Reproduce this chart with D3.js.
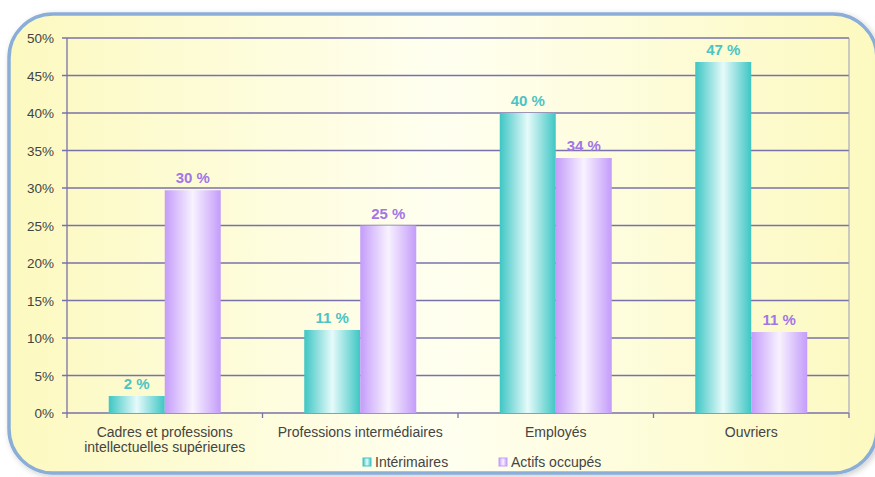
<!DOCTYPE html>
<html><head><meta charset="utf-8">
<script src="https://cdn.jsdelivr.net/npm/d3@7"></script>
<style>body{margin:0;background:#fff;}svg{display:block;font-family:Arial,"Liberation Sans",sans-serif;}</style>
</head><body>
<script>
const categories = [["Cadres et professions","intellectuelles supérieures"],["Professions intermédiaires"],["Employés"],["Ouvriers"]];
const seriesNames = ["Intérimaires","Actifs occupés"];
const interimaires = [2.27, 11.07, 40.0, 46.8];
const actifs = [29.7, 25.0, 34.0, 10.8];
const labelsInterim = ["2 %","11 %","40 %","47 %"];
const labelsActifs = ["30 %","25 %","34 %","11 %"];
const yTicks = [0,5,10,15,20,25,30,35,40,45,50];

const W=875,H=477;
const svg=d3.select("body").append("svg").attr("width",W).attr("height",H);
const defs=svg.append("defs");
const bg=defs.append("linearGradient").attr("id","bg").attr("x1","0").attr("x2","1").attr("y1","0").attr("y2","0");
bg.append("stop").attr("offset","0").attr("stop-color","#fcf9c0");
bg.append("stop").attr("offset","0.5").attr("stop-color","#fffff0");
bg.append("stop").attr("offset","1").attr("stop-color","#fcf9c0");
function barGrad(id,edge,mid){
  const g=defs.append("linearGradient").attr("id",id).attr("x1","0").attr("x2","1").attr("y1","0").attr("y2","0");
  g.append("stop").attr("offset","0").attr("stop-color",edge);
  g.append("stop").attr("offset","0.5").attr("stop-color",mid);
  g.append("stop").attr("offset","1").attr("stop-color",edge);
}
barGrad("gTeal","#3ec6c4","#e6fafa");
barGrad("gPurple","#c49cfa","#f8f2ff");
const sh=defs.append("filter").attr("id","sh").attr("x","-5%").attr("y","-5%").attr("width","110%").attr("height","110%");
sh.append("feGaussianBlur").attr("in","SourceAlpha").attr("stdDeviation","3");
sh.append("feOffset").attr("dx","2").attr("dy","2").attr("result","b");
sh.append("feComponentTransfer").append("feFuncA").attr("type","linear").attr("slope","0.2");
const fm=sh.append("feMerge");fm.append("feMergeNode");fm.append("feMergeNode").attr("in","SourceGraphic");

svg.append("rect").attr("x",9).attr("y",14).attr("width",868).attr("height",459).attr("rx",44).attr("ry",44)
  .attr("fill","url(#bg)").attr("stroke","#8aaed8").attr("stroke-width",3.5).attr("filter","url(#sh)");

const L=67,R=849,T=38,B=413;
const x=d3.scaleBand().domain(d3.range(categories.length)).range([L,R]).paddingInner(0).paddingOuter(0);
const inner=d3.scaleBand().domain([0,1]).range([0,x.bandwidth()]).paddingOuter(0.7455).paddingInner(0);
const y=d3.scaleLinear().domain([0,50]).range([B,T]);

const gridC="#7872aa";
svg.append("g").selectAll("line").data(yTicks).join("line")
  .attr("x1",L-5).attr("x2",R).attr("y1",d=>y(d)).attr("y2",d=>y(d)).attr("stroke",gridC).attr("stroke-width",1.3);
svg.append("line").attr("x1",L).attr("x2",L).attr("y1",T).attr("y2",B).attr("stroke",gridC).attr("stroke-width",1.3);
svg.append("line").attr("x1",R).attr("x2",R).attr("y1",T).attr("y2",B).attr("stroke","#9a9ab8").attr("stroke-width",1);
svg.append("g").selectAll("text").data(yTicks).join("text")
  .attr("x",L-13).attr("y",d=>y(d)+5).attr("text-anchor","end").attr("font-size",13.5).attr("fill","#444").text(d=>d+"%");
// x ticks
svg.append("g").selectAll("line").data(d3.range(categories.length+1)).join("line")
  .attr("x1",i=>L+i*x.bandwidth()).attr("x2",i=>L+i*x.bandwidth()).attr("y1",B).attr("y2",B+5).attr("stroke",gridC).attr("stroke-width",1.3);

const series=[{vals:interimaires,labels:labelsInterim,fill:"url(#gTeal)",lc:"#4cc4c4"},{vals:actifs,labels:labelsActifs,fill:"url(#gPurple)",lc:"#a276e6"}];
series.forEach((s,si)=>{
  const g=svg.append("g");
  g.selectAll("rect").data(s.vals).join("rect")
    .attr("x",(d,i)=>x(i)+inner(si)).attr("width",inner.bandwidth())
    .attr("y",d=>y(d)).attr("height",d=>B-y(d)).attr("fill",s.fill);
  g.selectAll("text").data(s.vals).join("text")
    .attr("x",(d,i)=>x(i)+inner(si)+inner.bandwidth()/2).attr("y",d=>y(d)-7)
    .attr("text-anchor","middle").attr("font-size",15).attr("font-weight","bold").attr("fill",s.lc)
    .text((d,i)=>s.labels[i]);
});

const xl=svg.append("g");
categories.forEach((c,i)=>{
  c.forEach((line,j)=>{
    xl.append("text").attr("x",x(i)+x.bandwidth()/2).attr("y",437+j*15).attr("text-anchor","middle")
      .attr("font-size",14).attr("fill","#444").text(line);
  });
});

const leg=[{x:363,name:seriesNames[0],fill:"url(#gTeal)",st:"#3ec6c4"},{x:499,name:seriesNames[1],fill:"url(#gPurple)",st:"#c49cfa"}];
leg.forEach(l=>{
  svg.append("rect").attr("x",l.x).attr("y",458).attr("width",8).attr("height",8).attr("fill",l.fill).attr("stroke",l.st).attr("stroke-width",1);
  svg.append("text").attr("x",l.x+12).attr("y",467).attr("font-size",14).attr("fill","#444").text(l.name);
});
</script>
</body></html>
